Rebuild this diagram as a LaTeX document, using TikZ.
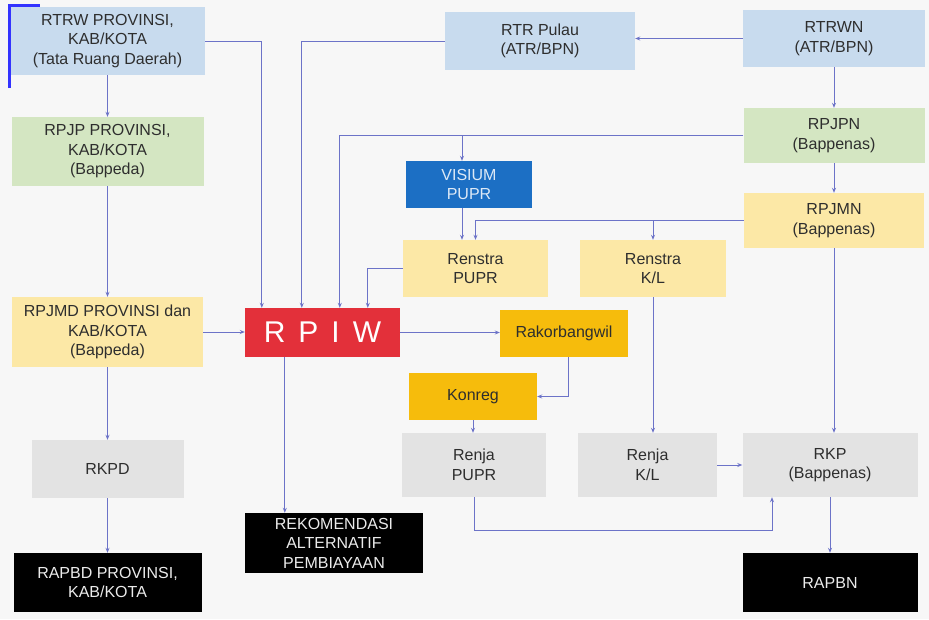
\documentclass[tikz,border=0pt]{standalone}
\usepackage{fontspec}
\setmainfont{Liberation Sans}
\usetikzlibrary{arrows.meta}
\definecolor{bgc}{HTML}{F7F7F7}
\definecolor{lblue}{HTML}{C8DBEE}
\definecolor{lgreen}{HTML}{D4E6C2}
\definecolor{pyellow}{HTML}{FCE8A6}
\definecolor{ogold}{HTML}{F6BC0C}
\definecolor{lgray}{HTML}{E3E3E3}
\definecolor{vblue}{HTML}{1C6FC4}
\definecolor{rred}{HTML}{E3303A}
\definecolor{txt}{HTML}{2E2E2E}
\definecolor{conn}{HTML}{6C73C8}
\begin{document}
\begin{tikzpicture}[x=1pt,y=-1pt,
  box/.style={rectangle, inner sep=0pt, align=center, text=txt,
    font=\fontsize{16}{19.5}\selectfont},
  link/.style={draw=conn, line width=0.9pt,
    -{Stealth[length=5pt,width=4pt]}},
  plain/.style={draw=conn, line width=0.9pt}]
\fill[bgc] (0,0) rectangle (929,619);
\useasboundingbox (0,0) rectangle (929,619);

% left column
\node[box, fill=lblue, minimum width=195pt, minimum height=68pt] (rtrw) at (107.5,41)
  {RTRW PROVINSI,\\KAB/KOTA\\(Tata Ruang Daerah)};
\node[box, fill=lgreen, minimum width=192pt, minimum height=69pt] (rpjp) at (107.5,151.5)
  {RPJP PROVINSI,\\KAB/KOTA\\(Bappeda)};
\node[box, fill=pyellow, minimum width=191pt, minimum height=70pt] (rpjmd) at (107.5,332)
  {RPJMD PROVINSI dan\\KAB/KOTA\\(Bappeda)};
\node[box, fill=lgray, minimum width=152pt, minimum height=58pt] (rkpd) at (107.5,469)
  {RKPD};
\node[box, fill=black, text=white!92!black, minimum width=188pt, minimum height=59pt] (rapbd) at (107.5,582.5)
  {RAPBD PROVINSI,\\KAB/KOTA};

% centre
\node[box, fill=rred, text=white, minimum width=155pt, minimum height=49pt,
  font=\fontsize{30}{30}\selectfont] (rpiw) at (322.5,332.5)
  {R\hspace{13pt}P\hspace{13pt}I\hspace{13pt}W};
\node[box, fill=black, text=white!92!black, minimum width=178pt, minimum height=60pt] (rekom) at (334,543)
  {REKOMENDASI\\ALTERNATIF\\PEMBIAYAAN};
\node[box, fill=lblue, minimum width=190pt, minimum height=58pt] (rtrpulau) at (540,41)
  {RTR Pulau\\(ATR/BPN)};
\node[box, fill=vblue, text=white!85!vblue, minimum width=126pt, minimum height=47pt] (visium) at (469,184.5)
  {VISIUM\\PUPR};
\node[box, fill=pyellow, minimum width=145pt, minimum height=57pt] (renstrap) at (475.5,268.5)
  {Renstra\\PUPR};
\node[box, fill=pyellow, minimum width=146pt, minimum height=57pt] (renstrak) at (653,268.5)
  {Renstra\\K/L};
\node[box, fill=ogold, minimum width=128pt, minimum height=47pt] (rakor) at (564,333.5)
  {Rakorbangwil};
\node[box, fill=ogold, minimum width=128pt, minimum height=47pt] (konreg) at (473,396.5)
  {Konreg};
\node[box, fill=lgray, minimum width=144pt, minimum height=64pt] (renjap) at (474,465)
  {Renja\\PUPR};
\node[box, fill=lgray, minimum width=139pt, minimum height=64pt] (renjak) at (647.5,465)
  {Renja\\K/L};

% right column
\node[box, fill=lblue, minimum width=182pt, minimum height=57pt] (rtrwn) at (834,38.5)
  {RTRWN\\(ATR/BPN)};
\node[box, fill=lgreen, minimum width=181pt, minimum height=55pt] (rpjpn) at (834,135.5)
  {RPJPN\\(Bappenas)};
\node[box, fill=pyellow, minimum width=180pt, minimum height=55pt] (rpjmn) at (834,220.5)
  {RPJMN\\(Bappenas)};
\node[box, fill=lgray, minimum width=175pt, minimum height=64pt] (rkp) at (830,465)
  {RKP\\(Bappenas)};
\node[box, fill=black, text=white!92!black, minimum width=175pt, minimum height=59pt] (rapbn) at (830,582.5)
  {RAPBN};

\draw[blue!80!white, line width=3pt] (9,88) -- (9,5) -- (40,5);

% connectors
\draw[link] (rtrw.east) -| ([xshift=17pt]rpiw.north west);
\draw[link] (rtrpulau.west) -| ([xshift=57pt]rpiw.north west);
\draw[link] (rtrwn.west) -- (rtrpulau.east |- rtrwn.west);
\draw[link] (rtrw.south) -- (rpjp.north);
\draw[link] (rpjp.south) -- (rpjmd.north);
\draw[link] (rpjmd.south) -- (rkpd.north);
\draw[link] (rkpd.south) -- (rapbd.north);
\draw[link] (rpjmd.east) -- (rpiw.west |- rpjmd.east);
\draw[link] (rtrwn.south) -- (rpjpn.north);
\draw[link] (rpjpn.south) -- (rpjmn.north);
\draw[link] (rpjpn.west) -| ([xshift=95pt]rpiw.north west);
\draw[link] ([xshift=-7pt]visium.north |- rpjpn.west) -- ([xshift=-7pt]visium.north);
\draw[link] ([xshift=-7pt]visium.south) -- ([xshift=-7pt]visium.south |- renstrap.north);
\draw[link] (rpjmn.west) -| (renstrap.north);
\draw[link] (renstrak.north |- rpjmn.west) -- (renstrak.north);
\draw[link] (renstrap.west) -| ([xshift=123pt]rpiw.north west);
\draw[link] (rpiw.east) -- (rakor.west |- rpiw.east);
\draw[link] ([xshift=4pt]rakor.south) |- (konreg.east);
\draw[link] (konreg.south) -- (konreg.south |- renjap.north);
\draw[link] (renstrak.south) -- (renstrak.south |- renjak.north);
\draw[link] (rpjmn.south) -- (rpjmn.south |- rkp.north);
\draw[link] (renjak.east) -- (rkp.west);
\coordinate (turn) at (772,530);
\draw[link] (renjap.south) |- (turn) -- (turn |- rkp.south);
\draw[link] (rkp.south) -- (rapbn.north);
\draw[link] ([xshift=40pt]rpiw.south west) -- ([xshift=40pt]rpiw.south west |- rekom.north);
\end{tikzpicture}
\end{document}
